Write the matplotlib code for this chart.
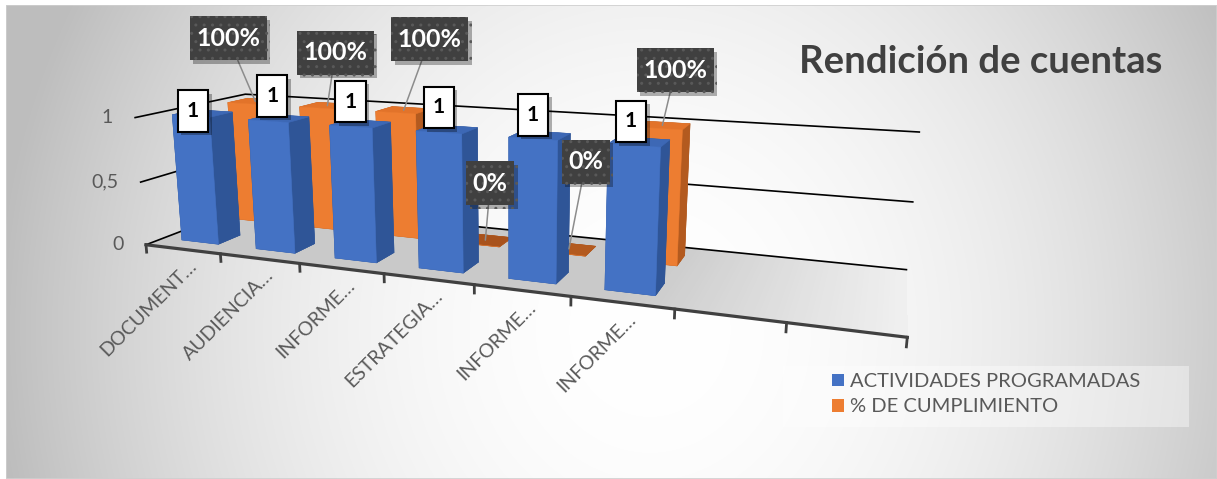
import numpy as np
import matplotlib
matplotlib.use("Agg")
import matplotlib.pyplot as plt
import matplotlib.patheffects as pe
from matplotlib.patches import Rectangle, Patch
from matplotlib.path import Path
from mpl_toolkits.mplot3d import proj3d
from mpl_toolkits.mplot3d.art3d import Poly3DCollection

plt.rcParams['font.family'] = ['Lato', 'DejaVu Sans']

# ---- datos ----
categorias = ["DOCUMENT…", "AUDIENCIA…", "INFORME…", "ESTRATEGIA…", "INFORME…", "INFORME…", "", ""]
actividades = [1, 1, 1, 1, 1, 1, np.nan, np.nan]
cumplimiento = [1.0, 1.0, 1.0, 0.0, 0.0, 1.0, np.nan, np.nan]
series = ["ACTIVIDADES PROGRAMADAS", "% DE CUMPLIMIENTO"]
ticks_z = [0, 0.5, 1]
ticks_z_txt = ["0", "0,5", "1"]

# desplazamiento de las etiquetas (pixeles)
off_act = [(2, 5), (4, 25), (0, 25), (0, 25), (0, 24), (-3, 24)]
off_pct = [(-27, 63), (8, 53), (26, 71), (5, 57), (17, 87), (13, 55)]

AZUL = ['#4472C4', '#2F5597', '#3D68B5']
NARANJA = ['#ED7D31', '#B35A1F', '#E2732A', '#A8521C']

W, H = 1217, 479
fig = plt.figure(figsize=(W / 100, H / 100), dpi=100)

# fondo degradado
bg = fig.add_axes([6 / W, 0, 1 - 6 / W, 1 - 5 / H])
xx, yy = np.meshgrid(np.arange(6, W) + 0.5, np.arange(5, H) + 0.5)
r = np.sqrt(((xx - 650) / 650) ** 2 + ((yy - 330) / 700) ** 2)
g = (255 - 65 * np.clip(r, 0, 1) ** 2) / 255
bg.imshow(np.dstack([g, g, g]), extent=(0, 1, 0, 1), aspect='auto')
bg.add_patch(Rectangle((0, 0), 1, 1, transform=bg.transAxes, fill=False, ec='#CFCFCF', lw=1.2))
bg.axis('off')

n = len(categorias)
# vista 3D en perspectiva (rotacion / perspectiva como el grafico original)
ax = fig.add_axes([118.04 / W, -105.15 / H, 764.43 / W, 764.43 / H], projection='3d', computed_zorder=False)
ax.set_zorder(1)
ax.set_facecolor((0, 0, 0, 0))
ax.set_axis_off()
ax.view_init(elev=13.189, azim=-69.319)
ax.set_proj_type('persp', focal_length=0.24468)
ax.set_box_aspect((1, 0.25413, 0.18058))

# piso (un poco mas claro hacia la derecha)
tiras = np.linspace(0, n, 161)
grises = []
quads = []
for a, b in zip(tiras[:-1], tiras[1:]):
    t = np.clip(((a + b) / 2 - 5.5) / 2.5, 0, 1)
    grises.append(str(0.79 + 0.15 * t))
    quads.append([(a, 0, 0), (b, 0, 0), (b, 2, 0), (a, 2, 0)])
piso = Poly3DCollection(quads, facecolors=grises, edgecolors='none', linewidths=0, antialiased=False,
                        zorder=1)
piso.set_clip_on(False)
ax.add_collection3d(piso)

# lineas de division (pared lateral + fondo)
for z in ticks_z:
    ax.plot([0, 0, n], [0, 2, 2], [z, z, z], color='black', lw=1.2, zorder=2, clip_on=False)
ax.plot([0, n], [0, 0], [0, 0], color='#404040', lw=2.3, zorder=2.5, clip_on=False)
for i in range(n + 1):
    ax.plot([i, i], [0, 0], [0, -0.06], color='#404040', lw=2, zorder=2.5, clip_on=False)

bar_w, bar_d = 0.5, 0.4
xc = np.arange(n) + 0.5


def barras(vals, fila, col, z):
    idx = [i for i in range(n) if not np.isnan(vals[i])]
    h = np.array([vals[i] for i in idx])
    caras = []
    for v in h:
        tope = col[3] if (v == 0 and len(col) > 3) else col[2]
        caras += [col[1], tope, col[0], col[1], col[1], col[1]]
    ax.bar3d(xc[idx] - bar_w / 2, np.full(len(idx), fila + 0.5 - bar_d / 2), np.zeros(len(idx)),
             bar_w, bar_d, h, color=caras, edgecolor=caras, linewidth=0.4, shade=False, zorder=z,
             clip_on=False)


barras(cumplimiento, 1, NARANJA, 3)
barras(actividades, 0, AZUL, 4)
ax.set_xlim(0, n)
ax.set_ylim(0, 2)
ax.set_zlim(0, 1)

M = ax.get_proj()


def pt(x, y, z):
    a, b_, _ = proj3d.proj_transform(np.array([x]), np.array([y]), np.array([z]), M)
    return (a[0], b_[0])


def caja(padx, pady):
    # caja rectangular con margen horizontal y vertical distintos
    def estilo(x0, y0, w, h, m):
        a, b = padx * m, pady * m
        return Path([(x0 - a, y0 - b), (x0 + w + a, y0 - b), (x0 + w + a, y0 + h + b),
                     (x0 - a, y0 + h + b), (x0 - a, y0 - b)], closed=True)
    return estilo


# etiquetas eje vertical
for z, t in zip(ticks_z, ticks_z_txt):
    ax.annotate(t, pt(0, 0, z), xytext=(-22, 0), textcoords='offset pixels', ha='right', va='center',
                fontsize=14, color='#595959', annotation_clip=False)
# categorias
for i, c in enumerate(categorias):
    if c:
        ax.annotate(c, pt(xc[i], 0, 0), xytext=(11, -14), textcoords='offset pixels', rotation=45,
                    rotation_mode='anchor', ha='right', va='center', fontsize=14, color='#595959',
                    annotation_clip=False)

sombra = [pe.withSimplePatchShadow(offset=(2.5, -2.5), shadow_rgbFace='black', alpha=0.3)]
# etiquetas de datos
k_ = 0
for i in range(n):
    v = cumplimiento[i]
    if np.isnan(v):
        continue
    a = ax.annotate(f"{v:.0%}", pt(xc[i], 1.5, v), xytext=off_pct[k_], textcoords='offset pixels',
                    ha='center', va='center', fontsize=18, fontweight='bold', color='white', zorder=10,
                    bbox=dict(boxstyle=caja(0.26, 0.42), fc='#404040', ec='#595959', lw=0, hatch='..'),
                    arrowprops=dict(arrowstyle='-', color='#8c8c8c', lw=1.1, shrinkA=0, shrinkB=0),
                    annotation_clip=False)
    a.get_bbox_patch().set_path_effects(sombra)
    k_ += 1
k_ = 0
for i in range(n):
    v = actividades[i]
    if np.isnan(v):
        continue
    a = ax.annotate(f"{v:g}", pt(xc[i], 0.5 - bar_d / 2, v), xytext=off_act[k_], textcoords='offset pixels',
                    ha='center', va='center', fontsize=15, fontweight='bold', color='black', zorder=11,
                    bbox=dict(boxstyle=caja(0.44, 0.52), fc='white', ec='black', lw=1.5),
                    annotation_clip=False)
    a.get_bbox_patch().set_path_effects(sombra)
    k_ += 1

# titulo
fig.text(981 / W, 1 - 73 / H, "Rendición de cuentas", ha='center', va='baseline', fontsize=27.5,
         fontweight='bold', color='#404040')

# leyenda
fig.patches.append(Rectangle((783 / W, 1 - 427 / H), 406 / W, 61 / H, transform=fig.transFigure,
                             fc='white', alpha=0.4, ec='none'))
fig.legend([Patch(fc=AZUL[0]), Patch(fc=NARANJA[0])], series, loc='upper left',
           bbox_to_anchor=(832 / W, 1 - 373 / H), frameon=False, borderpad=0, borderaxespad=0,
           handlelength=0.6, handleheight=0.6, handletextpad=0.3, labelspacing=0.42, fontsize=14.5,
           labelcolor='#595959')

fig.savefig('out.png', dpi=100)
